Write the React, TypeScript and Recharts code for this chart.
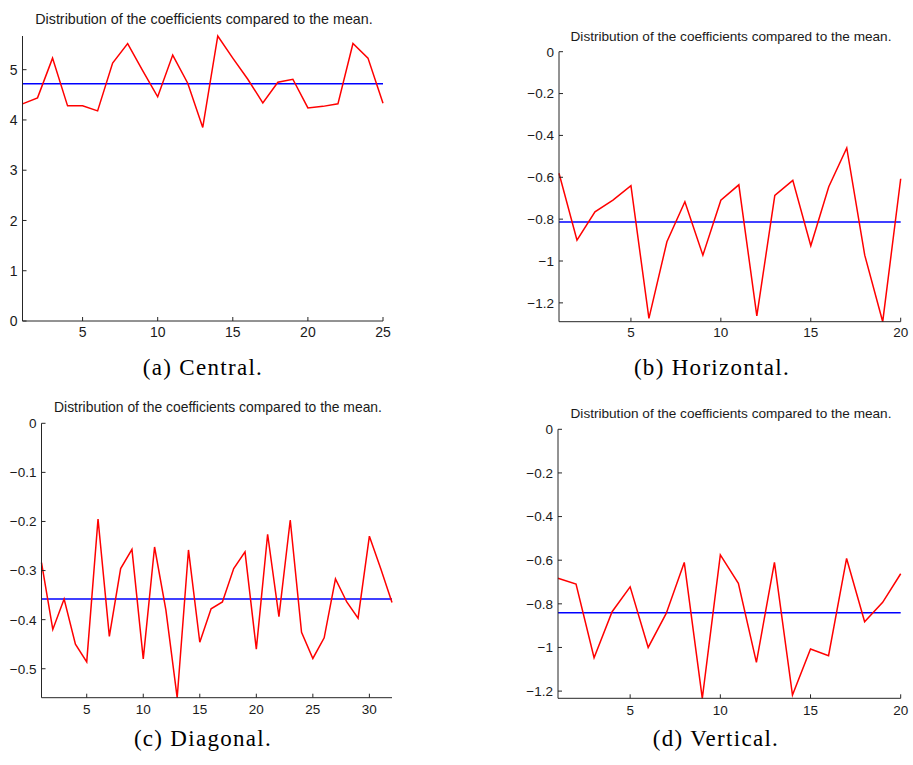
import { LineChart, Line, XAxis, YAxis, ReferenceLine } from "recharts";

// coefficients
const centralValues = [
  4.32, 4.44, 5.23, 4.28, 4.28, 4.18, 5.13, 5.52, 4.98, 4.46, 5.29, 4.73, 3.85,
  5.67, 5.23, 4.81, 4.34, 4.75, 4.81, 4.24, 4.27, 4.32, 5.52, 5.23, 4.33,
];
const centralMean = 4.72;

const horizontalValues = [
  -0.581, -0.9, -0.765, -0.709, -0.64, -1.274, -0.908, -0.717, -0.972, -0.71,
  -0.636, -1.262, -0.687, -0.615, -0.927, -0.645, -0.46, -0.972, -1.29, -0.607,
];
const horizontalMean = -0.814;

const diagonalValues = [
  -0.284, -0.42, -0.358, -0.45, -0.486, -0.195, -0.434, -0.296, -0.257, -0.48,
  -0.252, -0.38, -0.559, -0.258, -0.446, -0.378, -0.364, -0.296, -0.262, -0.46,
  -0.226, -0.394, -0.197, -0.426, -0.479, -0.437, -0.317, -0.364, -0.397, -0.23,
  -0.296, -0.365,
];
const diagonalMean = -0.358;

const verticalValues = [
  -0.683, -0.709, -1.047, -0.836, -0.722, -1.0, -0.844, -0.61, -1.233, -0.576,
  -0.706, -1.068, -0.61, -1.218, -1.007, -1.038, -0.592, -0.882, -0.793, -0.662,
];
const verticalMean = -0.841;

const centralXTicks = [5, 10, 15, 20, 25];
const centralYTicks = [0, 1, 2, 3, 4, 5];
const horizontalXTicks = [5, 10, 15, 20];
const horizontalYTicks = [-1.2, -1, -0.8, -0.6, -0.4, -0.2, 0];
const diagonalXTicks = [5, 10, 15, 20, 25, 30];
const diagonalYTicks = [-0.5, -0.4, -0.3, -0.2, -0.1, 0];
const verticalXTicks = [5, 10, 15, 20];
const verticalYTicks = [-1.2, -1, -0.8, -0.6, -0.4, -0.2, 0];

const TITLE = "Distribution of the coefficients compared to the mean.";
const captions = ["(a) Central.", "(b) Horizontal.", "(c) Diagonal.", "(d) Vertical."];

const AXIS = "#262626";
const TEXT = "#1a1a1a";
const SANS = '"Liberation Sans", Arial, Helvetica, sans-serif';

const fmt = (v: number) => String(v).replace("-", "\u2212");

function Panel({
  values,
  mean,
  xTicks,
  yTicks,
  yDomain,
  left,
  top,
  width,
  height,
  margin,
  yAxisWidth,
  fontSize,
  labelOffset,
}: any) {
  const data = values.map((v: number, i: number) => ({ idx: i + 1, value: v }));

  return (
    <div style={{ position: "absolute", left, top }}>
      <LineChart width={width} height={height} data={data} margin={margin}>
        <XAxis
          dataKey="idx"
          type="number"
          domain={[1, values.length]}
          ticks={xTicks}
          height={20}
          tickSize={0}
          tickMargin={0}
          tickLine={false}
          axisLine={{ stroke: AXIS, strokeWidth: 1 }}
          interval={0}
          tick={(p: any) => (
            <g>
              <line x1={p.x} x2={p.x} y1={p.y} y2={p.y - 4} stroke={AXIS} />
              <text
                x={p.x}
                y={p.y + labelOffset}
                textAnchor="middle"
                fontSize={fontSize}
                fontFamily={SANS}
                fill={TEXT}
              >
                {fmt(p.payload.value)}
              </text>
            </g>
          )}
        />
        <YAxis
          type="number"
          domain={yDomain}
          ticks={yTicks}
          width={yAxisWidth}
          tickSize={0}
          tickMargin={0}
          tickLine={false}
          axisLine={{ stroke: AXIS, strokeWidth: 1 }}
          interval={0}
          tick={(p: any) => (
            <g>
              <line x1={p.x} x2={p.x + 4} y1={p.y} y2={p.y} stroke={AXIS} />
              <text
                x={p.x - 5}
                y={p.y}
                dy="0.36em"
                textAnchor="end"
                fontSize={fontSize}
                fontFamily={SANS}
                fill={TEXT}
              >
                {fmt(p.payload.value)}
              </text>
            </g>
          )}
        />
        <ReferenceLine y={mean} stroke="#0000ff" strokeWidth={1.5} />
        <Line
          type="linear"
          dataKey="value"
          stroke="#ff0000"
          strokeWidth={1.5}
          dot={false}
          isAnimationActive={false}
        />
      </LineChart>
    </div>
  );
}

export default function App() {
  return (
    <div
      style={{
        position: "absolute",
        left: 0,
        top: 0,
        width: 913,
        height: 765,
        background: "#fff",
        overflow: "hidden",
      }}
    >
      <Panel
        values={centralValues}
        mean={centralMean}
        xTicks={centralXTicks}
        yTicks={centralYTicks}
        yDomain={[0, "dataMax"]}
        left={0}
        top={0}
        width={400}
        height={345}
        margin={{ top: 36, right: 17, bottom: 4, left: 0 }}
        yAxisWidth={22.5}
        fontSize={14}
        labelOffset={15.5}
      />
      <Panel
        values={horizontalValues}
        mean={horizontalMean}
        xTicks={horizontalXTicks}
        yTicks={horizontalYTicks}
        yDomain={["dataMin", 0]}
        left={500}
        top={0}
        width={413}
        height={345}
        margin={{ top: 51.7, right: 12.3, bottom: 3.3, left: 0 }}
        yAxisWidth={59}
        fontSize={13.5}
        labelOffset={15.5}
      />
      <Panel
        values={diagonalValues}
        mean={diagonalMean}
        xTicks={diagonalXTicks}
        yTicks={diagonalYTicks}
        yDomain={["dataMin", 0]}
        left={0}
        top={390}
        width={410}
        height={330}
        margin={{ top: 33.3, right: 18, bottom: 2.3, left: 0 }}
        yAxisWidth={41.5}
        fontSize={13.5}
        labelOffset={16.5}
      />
      <Panel
        values={verticalValues}
        mean={verticalMean}
        xTicks={verticalXTicks}
        yTicks={verticalYTicks}
        yDomain={["dataMin", 0]}
        left={500}
        top={390}
        width={413}
        height={330}
        margin={{ top: 39.3, right: 12.3, bottom: 1.7, left: 0 }}
        yAxisWidth={58}
        fontSize={13.5}
        labelOffset={16.5}
      />
      <svg
        width={913}
        height={765}
        style={{ position: "absolute", left: 0, top: 0, pointerEvents: "none" }}
      >
        <g fontFamily={SANS} fill={TEXT} textAnchor="middle">
          <text x={204} y={24} fontSize={14.3}>{TITLE}</text>
          <text x={731} y={40.7} fontSize={13.6}>{TITLE}</text>
          <text x={218} y={411.7} fontSize={13.9}>{TITLE}</text>
          <text x={731} y={418} fontSize={13.6}>{TITLE}</text>
        </g>
        <g
          fontFamily='"Liberation Serif", "Times New Roman", serif'
          fill="#000"
          textAnchor="middle"
          fontSize={23}
          letterSpacing={1.3}
        >
          <text x={203} y={375}>{captions[0]}</text>
          <text x={712} y={375}>{captions[1]}</text>
          <text x={203} y={746}>{captions[2]}</text>
          <text x={716} y={746}>{captions[3]}</text>
        </g>
      </svg>
    </div>
  );
}
